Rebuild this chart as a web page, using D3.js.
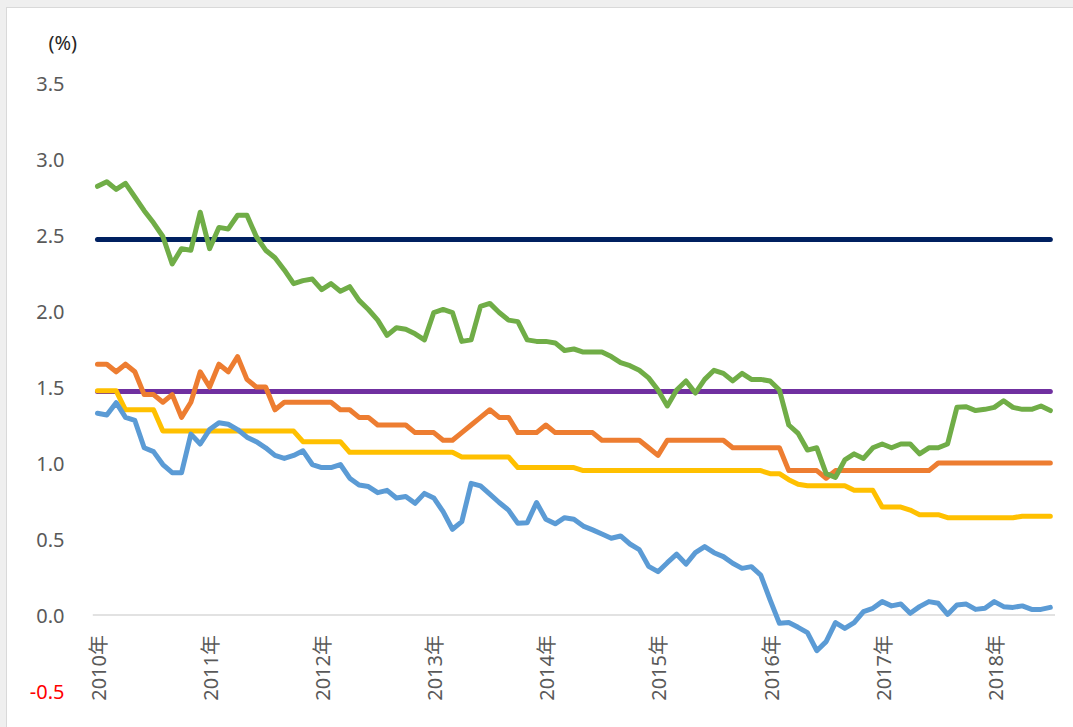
<!DOCTYPE html>
<html>
<head>
<meta charset="utf-8">
<script src="https://cdn.jsdelivr.net/npm/d3@7"></script>
<style>
  html, body { margin: 0; padding: 0; background: #efefef; }
  svg { display: block; }
  text { font-family: "Noto Sans", "Noto Sans CJK JP", sans-serif; }
</style>
</head>
<body>
<svg id="chart" width="1073" height="727"></svg>
<script>
// ---- data ----
const startMonth = "2010-01";
const yearLabels = ["2010年","2011年","2012年","2013年","2014年","2015年","2016年","2017年","2018年"];
const yTicks = [-0.5, 0.0, 0.5, 1.0, 1.5, 2.0, 2.5, 3.0, 3.5];

const seriesNavy = 2.47;
const seriesPurple = 1.47;

const seriesGreen = [
  2.82,2.85,2.80,2.84,2.75,2.66,2.58,2.49,2.31,2.41,2.40,2.65,
  2.41,2.55,2.54,2.63,2.63,2.49,2.40,2.35,2.27,2.18,2.20,2.21,
  2.14,2.18,2.13,2.16,2.07,2.01,1.94,1.84,1.89,1.88,1.85,1.81,
  1.99,2.01,1.99,1.80,1.81,2.03,2.05,1.99,1.94,1.93,1.81,1.80,
  1.80,1.79,1.74,1.75,1.73,1.73,1.73,1.70,1.66,1.64,1.61,1.56,
  1.48,1.375,1.48,1.54,1.46,1.55,1.61,1.59,1.54,1.59,1.55,1.55,
  1.54,1.48,1.25,1.195,1.085,1.10,0.93,0.905,1.02,1.06,1.03,1.10,
  1.125,1.10,1.125,1.125,1.06,1.10,1.10,1.125,1.366,1.37,1.345,1.353,
  1.366,1.41,1.366,1.353,1.353,1.375,1.345
];
const seriesOrange = [
  1.65,1.65,1.60,1.65,1.60,1.45,1.45,1.40,1.45,1.30,1.40,1.60,
  1.50,1.65,1.60,1.70,1.55,1.50,1.50,1.35,1.40,1.40,1.40,1.40,
  1.40,1.40,1.35,1.35,1.30,1.30,1.25,1.25,1.25,1.25,1.20,1.20,
  1.20,1.15,1.15,1.20,1.25,1.30,1.35,1.30,1.30,1.20,1.20,1.20,
  1.25,1.20,1.20,1.20,1.20,1.20,1.15,1.15,1.15,1.15,1.15,1.10,
  1.05,1.15,1.15,1.15,1.15,1.15,1.15,1.15,1.10,1.10,1.10,1.10,
  1.10,1.10,0.95,0.95,0.95,0.95,0.90,0.95,0.95,0.95,0.95,0.95,
  0.95,0.95,0.95,0.95,0.95,0.95,1.00,1.00,1.00,1.00,1.00,1.00,
  1.00,1.00,1.00,1.00,1.00,1.00,1.00
];
const seriesYellow = [
  1.475,1.475,1.475,1.35,1.35,1.35,1.35,1.21,1.21,1.21,1.21,1.21,
  1.21,1.21,1.21,1.21,1.21,1.21,1.21,1.21,1.21,1.21,1.14,1.14,
  1.14,1.14,1.14,1.07,1.07,1.07,1.07,1.07,1.07,1.07,1.07,1.07,
  1.07,1.07,1.07,1.04,1.04,1.04,1.04,1.04,1.04,0.97,0.97,0.97,
  0.97,0.97,0.97,0.97,0.95,0.95,0.95,0.95,0.95,0.95,0.95,0.95,
  0.95,0.95,0.95,0.95,0.95,0.95,0.95,0.95,0.95,0.95,0.95,0.95,
  0.93,0.93,0.89,0.86,0.85,0.85,0.85,0.85,0.85,0.82,0.82,0.82,
  0.71,0.71,0.71,0.69,0.66,0.66,0.66,0.64,0.64,0.64,0.64,0.64,
  0.64,0.64,0.64,0.65,0.65,0.65,0.65
];
const seriesBlue = [
  1.327,1.316,1.397,1.30,1.28,1.10,1.075,0.99,0.936,0.936,1.19,1.125,
  1.22,1.265,1.255,1.22,1.17,1.14,1.10,1.05,1.03,1.05,1.08,0.99,
  0.97,0.97,0.99,0.90,0.855,0.845,0.805,0.82,0.77,0.78,0.735,0.80,
  0.77,0.68,0.564,0.614,0.866,0.85,0.796,0.74,0.69,0.603,0.607,0.74,
  0.63,0.60,0.64,0.63,0.585,0.56,0.533,0.505,0.52,0.467,0.43,0.32,
  0.285,0.344,0.40,0.335,0.41,0.45,0.41,0.384,0.34,0.307,0.318,0.263,
  0.099,-0.055,-0.05,-0.081,-0.116,-0.235,-0.175,-0.05,-0.088,-0.05,0.022,0.044,
  0.088,0.06,0.072,0.011,0.055,0.088,0.077,0.004,0.066,0.072,0.037,0.044,
  0.088,0.055,0.05,0.06,0.037,0.037,0.05
];

// ---- layout ----
const svg = d3.select("#chart");
const plot = { left: 92.8, right: 1055, top: 83, bottom: 691 };
const FONT = '"Noto Sans", "Noto Sans CJK JP", sans-serif';

// chart area frame
svg.append("rect").attr("x", 6.5).attr("y", 7.5).attr("width", 1100).attr("height", 760)
  .attr("fill", "#ffffff").attr("stroke", "#d9d9d9").attr("stroke-width", 1);

const parse = d3.timeParse("%Y-%m");
const t0 = parse(startMonth);
const months = d3.range(seriesGreen.length).map(i => d3.timeMonth.offset(t0, i));

const x = d3.scalePoint().domain(d3.range(months.length)).range([plot.left, plot.right]).padding(0.5);
const y = d3.scaleLinear().domain([-0.5, 3.5]).range([plot.bottom, plot.top]);

// y axis labels
const fmt = d3.formatLocale({ decimal: ".", thousands: ",", grouping: [3], currency: ["", ""], minus: "-" }).format(".1f");
const yAxis = d3.axisLeft(y).tickValues(yTicks).tickFormat(fmt).tickSize(0).tickPadding(0);
const gy = svg.append("g").attr("transform", "translate(64.5,0)").call(yAxis);
gy.select(".domain").remove();
gy.selectAll("text")
  .attr("font-size", 20)
  .attr("font-family", FONT)
  .attr("fill", d => d < 0 ? "#ff0000" : "#595959")
  .attr("dy", "0.35em");

// unit label
svg.append("text").attr("x", 48.5).attr("y", 43).attr("dy", "0.35em")
  .attr("font-family", FONT).attr("font-size", 20).attr("fill", "#262626").text("(%)");

// zero line (category axis)
svg.append("line")
  .attr("x1", plot.left).attr("x2", plot.right)
  .attr("y1", y(0)).attr("y2", y(0))
  .attr("stroke", "#d9d9d9").attr("stroke-width", 1.5);

// x axis year labels (rotated) at January of each year
const janIdx = months.map((m, i) => m.getMonth() === 0 ? i : -1).filter(i => i >= 0);
const xAxis = d3.axisBottom(x).tickValues(janIdx)
  .tickFormat(i => yearLabels[months[i].getFullYear() - 2010]).tickSize(0).tickPadding(0);
const gx = svg.append("g").attr("transform", `translate(1,${y(0) + 20})`).call(xAxis);
gx.select(".domain").remove();
gx.selectAll("text")
  .attr("font-size", 20)
  .attr("font-family", FONT)
  .attr("fill", "#595959")
  .attr("text-anchor", "end")
  .attr("transform", "rotate(-90)")
  .attr("x", 0).attr("y", 0).attr("dy", "0.35em");

// lines
const line = d3.line().x((d, i) => x(i)).y(d => y(d)).curve(d3.curveLinear);
const flat = v => seriesGreen.map(() => v);

const series = [
  { data: flat(seriesNavy), color: "#002060" },
  { data: flat(seriesPurple), color: "#7030a0" },
  { data: seriesYellow, color: "#ffc000" },
  { data: seriesBlue, color: "#5b9bd5" },
  { data: seriesOrange, color: "#ed7d31" },
  { data: seriesGreen, color: "#70ad47" }
];
svg.append("g").selectAll("path").data(series).join("path")
  .attr("d", d => line(d.data))
  .attr("fill", "none")
  .attr("stroke", d => d.color)
  .attr("stroke-width", 5)
  .attr("stroke-linejoin", "round")
  .attr("stroke-linecap", "round");
</script>
</body>
</html>
